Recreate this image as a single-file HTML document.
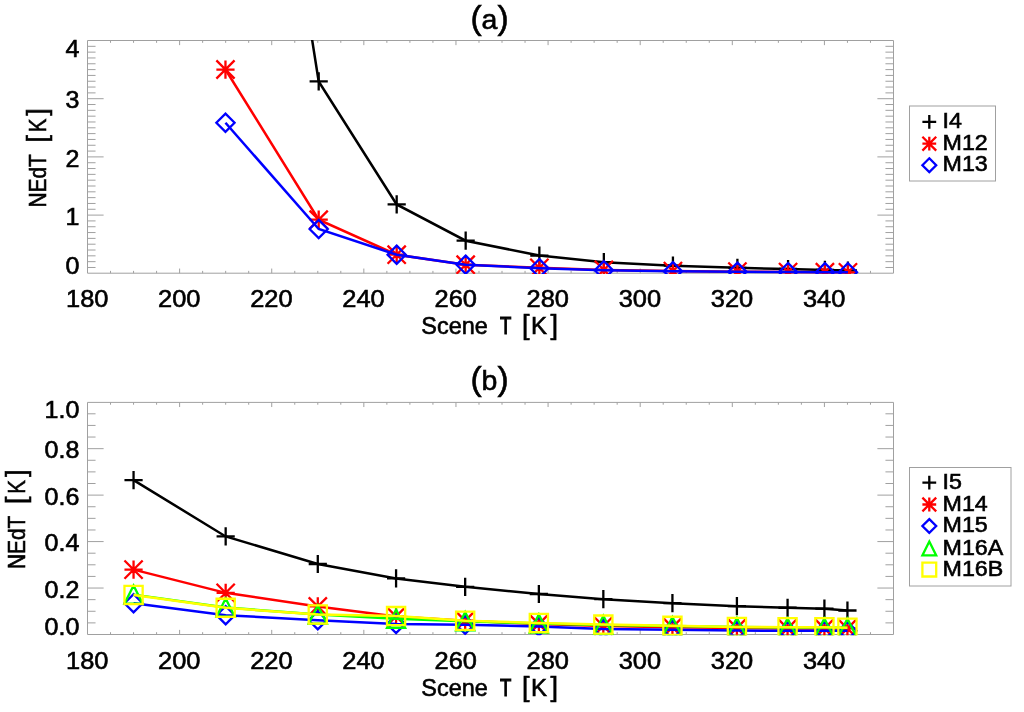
<!DOCTYPE html>
<html><head><meta charset="utf-8"><title>NEdT vs Scene T</title>
<style>
html,body{margin:0;padding:0;background:#fff;}
svg{display:block;font-family:'Liberation Sans', 'DejaVu Sans', sans-serif;fill:#000;}
text{stroke:#000;stroke-width:0.6px;}
</style></head><body>
<svg width="1024" height="712" viewBox="0 0 1024 712">
<rect width="1024" height="712" fill="#fff"/>
<clipPath id="ca"><rect x="87.0" y="40.0" width="807.0" height="233.89999999999998"/></clipPath>
<path d="M87.5 40.5H893.5V273.2H87.5ZM110.53 273.2v-2.33M110.53 40.5v2.33M133.56 273.2v-2.33M133.56 40.5v2.33M156.59 273.2v-2.33M156.59 40.5v2.33M179.61 273.2v-4.65M179.61 40.5v4.65M202.64 273.2v-2.33M202.64 40.5v2.33M225.67 273.2v-2.33M225.67 40.5v2.33M248.70 273.2v-2.33M248.70 40.5v2.33M271.73 273.2v-4.65M271.73 40.5v4.65M294.76 273.2v-2.33M294.76 40.5v2.33M317.79 273.2v-2.33M317.79 40.5v2.33M340.81 273.2v-2.33M340.81 40.5v2.33M363.84 273.2v-4.65M363.84 40.5v4.65M386.87 273.2v-2.33M386.87 40.5v2.33M409.90 273.2v-2.33M409.90 40.5v2.33M432.93 273.2v-2.33M432.93 40.5v2.33M455.96 273.2v-4.65M455.96 40.5v4.65M478.99 273.2v-2.33M478.99 40.5v2.33M502.01 273.2v-2.33M502.01 40.5v2.33M525.04 273.2v-2.33M525.04 40.5v2.33M548.07 273.2v-4.65M548.07 40.5v4.65M571.10 273.2v-2.33M571.10 40.5v2.33M594.13 273.2v-2.33M594.13 40.5v2.33M617.16 273.2v-2.33M617.16 40.5v2.33M640.19 273.2v-4.65M640.19 40.5v4.65M663.21 273.2v-2.33M663.21 40.5v2.33M686.24 273.2v-2.33M686.24 40.5v2.33M709.27 273.2v-2.33M709.27 40.5v2.33M732.30 273.2v-4.65M732.30 40.5v4.65M755.33 273.2v-2.33M755.33 40.5v2.33M778.36 273.2v-2.33M778.36 40.5v2.33M801.39 273.2v-2.33M801.39 40.5v2.33M824.41 273.2v-4.65M824.41 40.5v4.65M847.44 273.2v-2.33M847.44 40.5v2.33M870.47 273.2v-2.33M870.47 40.5v2.33M87.5 267.48h8.06M893.5 267.48h-8.06M87.5 261.66h8.06M893.5 261.66h-8.06M87.5 255.84h8.06M893.5 255.84h-8.06M87.5 250.02h8.06M893.5 250.02h-8.06M87.5 244.20h8.06M893.5 244.20h-8.06M87.5 238.38h8.06M893.5 238.38h-8.06M87.5 232.56h8.06M893.5 232.56h-8.06M87.5 226.74h8.06M893.5 226.74h-8.06M87.5 220.92h8.06M893.5 220.92h-8.06M87.5 215.10h16.12M893.5 215.10h-16.12M87.5 209.28h8.06M893.5 209.28h-8.06M87.5 203.46h8.06M893.5 203.46h-8.06M87.5 197.64h8.06M893.5 197.64h-8.06M87.5 191.82h8.06M893.5 191.82h-8.06M87.5 186.00h8.06M893.5 186.00h-8.06M87.5 180.18h8.06M893.5 180.18h-8.06M87.5 174.36h8.06M893.5 174.36h-8.06M87.5 168.54h8.06M893.5 168.54h-8.06M87.5 162.72h8.06M893.5 162.72h-8.06M87.5 156.90h16.12M893.5 156.90h-16.12M87.5 151.08h8.06M893.5 151.08h-8.06M87.5 145.26h8.06M893.5 145.26h-8.06M87.5 139.44h8.06M893.5 139.44h-8.06M87.5 133.62h8.06M893.5 133.62h-8.06M87.5 127.80h8.06M893.5 127.80h-8.06M87.5 121.98h8.06M893.5 121.98h-8.06M87.5 116.16h8.06M893.5 116.16h-8.06M87.5 110.34h8.06M893.5 110.34h-8.06M87.5 104.52h8.06M893.5 104.52h-8.06M87.5 98.70h16.12M893.5 98.70h-16.12M87.5 92.88h8.06M893.5 92.88h-8.06M87.5 87.06h8.06M893.5 87.06h-8.06M87.5 81.24h8.06M893.5 81.24h-8.06M87.5 75.42h8.06M893.5 75.42h-8.06M87.5 69.60h8.06M893.5 69.60h-8.06M87.5 63.78h8.06M893.5 63.78h-8.06M87.5 57.96h8.06M893.5 57.96h-8.06M87.5 52.14h8.06M893.5 52.14h-8.06M87.5 46.32h8.06M893.5 46.32h-8.06" fill="none" stroke="#a0a0a0" stroke-width="1.0" shape-rendering="auto"/>
<g clip-path="url(#ca)" fill="none" stroke-linejoin="miter">
<polyline points="134.06,-2066.30 225.47,-510.20 318.69,81.47 396.68,204.44 465.67,240.71 539.36,255.56 603.84,262.18 672.93,265.69 737.41,267.85 788.07,269.02 824.91,269.90 847.94,270.48" stroke="#000" stroke-width="2.5"/>
<path d="M309.59 81.47H327.79M318.69 72.37V90.57M387.58 204.44H405.78000000000003M396.68 195.34V213.54M456.57 240.71H474.77000000000004M465.67 231.61V249.81M530.26 255.56H548.46M539.36 246.46V264.66M594.74 262.18H612.94M603.84 253.08V271.28000000000003M663.8299999999999 265.69H682.03M672.93 256.59V274.79M728.31 267.85H746.51M737.41 258.75V276.95000000000005M778.97 269.02H797.1700000000001M788.07 259.91999999999996V278.12M815.81 269.9H834.01M824.91 260.79999999999995V279.0M838.84 270.48H857.0400000000001M847.94 261.38V279.58000000000004" stroke="#000" stroke-width="2.3"/>
<polyline points="225.47,69.53 318.69,219.70 396.68,254.69 465.67,264.69 539.36,267.85 603.84,269.90 672.93,271.07 737.41,271.65 788.07,272.06 824.91,272.24 847.94,272.35" stroke="#f00" stroke-width="2.5"/>
<path d="M216.37 69.53H234.57M225.47 60.43V78.63M216.37 60.43L234.57 78.63M216.37 78.63L234.57 60.43M309.59 219.7H327.79M318.69 210.6V228.79999999999998M309.59 210.6L327.79 228.79999999999998M309.59 228.79999999999998L327.79 210.6M387.58 254.69H405.78000000000003M396.68 245.59V263.79M387.58 245.59L405.78000000000003 263.79M387.58 263.79L405.78000000000003 245.59M456.57 264.69H474.77000000000004M465.67 255.59V273.79M456.57 255.59L474.77000000000004 273.79M456.57 273.79L474.77000000000004 255.59M530.26 267.85H548.46M539.36 258.75V276.95000000000005M530.26 258.75L548.46 276.95000000000005M530.26 276.95000000000005L548.46 258.75M594.74 269.9H612.94M603.84 260.79999999999995V279.0M594.74 260.79999999999995L612.94 279.0M594.74 279.0L612.94 260.79999999999995M663.8299999999999 271.07H682.03M672.93 261.96999999999997V280.17M663.8299999999999 261.96999999999997L682.03 280.17M663.8299999999999 280.17L682.03 261.96999999999997M728.31 271.65H746.51M737.41 262.54999999999995V280.75M728.31 262.54999999999995L746.51 280.75M728.31 280.75L746.51 262.54999999999995M778.97 272.06H797.1700000000001M788.07 262.96V281.16M778.97 262.96L797.1700000000001 281.16M778.97 281.16L797.1700000000001 262.96M815.81 272.24H834.01M824.91 263.14V281.34000000000003M815.81 263.14L834.01 281.34000000000003M815.81 281.34000000000003L834.01 263.14M838.84 272.35H857.0400000000001M847.94 263.25V281.45000000000005M838.84 263.25L857.0400000000001 281.45000000000005M838.84 281.45000000000005L857.0400000000001 263.25" stroke="#f00" stroke-width="2.3"/>
<polyline points="225.47,122.77 318.69,228.95 396.68,254.69 465.67,264.69 539.36,268.20 603.84,270.19 672.93,271.24 737.41,271.77 788.07,272.12 824.91,272.24 847.94,272.30" stroke="#00f" stroke-width="2.5"/>
<path d="M225.47 113.67L234.57 122.77L225.47 131.87L216.37 122.77ZM318.69 219.85L327.79 228.95L318.69 238.04999999999998L309.59 228.95ZM396.68 245.59L405.78000000000003 254.69L396.68 263.79L387.58 254.69ZM465.67 255.59L474.77000000000004 264.69L465.67 273.79L456.57 264.69ZM539.36 259.09999999999997L548.46 268.2L539.36 277.3L530.26 268.2ZM603.84 261.09L612.94 270.19L603.84 279.29L594.74 270.19ZM672.93 262.14L682.03 271.24L672.93 280.34000000000003L663.8299999999999 271.24ZM737.41 262.66999999999996L746.51 271.77L737.41 280.87L728.31 271.77ZM788.07 263.02L797.1700000000001 272.12L788.07 281.22L778.97 272.12ZM824.91 263.14L834.01 272.24L824.91 281.34000000000003L815.81 272.24ZM847.94 263.2L857.0400000000001 272.3L847.94 281.40000000000003L838.84 272.3Z" stroke="#00f" stroke-width="2.3"/>
</g>
<g font-size="24" text-anchor="middle">
<text transform="translate(87.2 306.8) scale(1.06 1)">180</text>
<text transform="translate(179.3 306.8) scale(1.06 1)">200</text>
<text transform="translate(271.4 306.8) scale(1.06 1)">220</text>
<text transform="translate(363.5 306.8) scale(1.06 1)">240</text>
<text transform="translate(455.7 306.8) scale(1.06 1)">260</text>
<text transform="translate(547.8 306.8) scale(1.06 1)">280</text>
<text transform="translate(639.9 306.8) scale(1.06 1)">300</text>
<text transform="translate(732.0 306.8) scale(1.06 1)">320</text>
<text transform="translate(824.1 306.8) scale(1.06 1)">340</text>
</g>
<g font-size="23" text-anchor="end">
<text transform="translate(79.4 56.5) scale(1.09 1)">4</text>
<text transform="translate(79.4 108.4) scale(1.09 1)">3</text>
<text transform="translate(79.4 166.6) scale(1.09 1)">2</text>
<text transform="translate(79.4 224.8) scale(1.09 1)">1</text>
<text transform="translate(79.4 273.8) scale(1.09 1)">0</text>
</g>
<text x="489.5" y="28.5" font-size="33.6" text-anchor="middle" style="stroke-width:0.6px"><tspan>(</tspan><tspan font-size="28.5">a</tspan><tspan>)</tspan></text>
<text y="334.3" font-size="24"><tspan x="421.3" textLength="66.5" lengthAdjust="spacingAndGlyphs">Scene</tspan> <tspan x="500" textLength="11" lengthAdjust="spacingAndGlyphs" style="stroke-width:1.1px">T</tspan> <tspan x="522" font-size="27">[</tspan><tspan x="531">K</tspan><tspan x="550.4" font-size="27">]</tspan></text>
<text transform="translate(46.3 157.3) rotate(-90)" font-size="24"><tspan x="-50.3" textLength="53" lengthAdjust="spacingAndGlyphs">NEdT</tspan> <tspan x="14.7" font-size="27">[</tspan><tspan x="25" textLength="13.6" lengthAdjust="spacingAndGlyphs">K</tspan><tspan x="41.6" font-size="27">]</tspan></text>
<rect x="909.5" y="106" width="86.0" height="75" fill="#fff" stroke="#a0a0a0" stroke-width="1.0"/>
<path d="M922.4 121.8H936.1999999999999M929.3 114.89999999999999V128.7" fill="none" stroke="#000" stroke-width="2.3"/>
<text transform="translate(942.5 127.8) scale(1.035 1)" font-size="22.5">I4</text>
<path d="M922.4 143.7H936.1999999999999M929.3 136.79999999999998V150.6M922.4 136.79999999999998L936.1999999999999 150.6M922.4 150.6L936.1999999999999 136.79999999999998" fill="none" stroke="#f00" stroke-width="2.3"/>
<text transform="translate(942.5 149.7) scale(1.035 1)" font-size="22.5">M12</text>
<path d="M929.3 158.29999999999998L936.1999999999999 165.2L929.3 172.1L922.4 165.2Z" fill="none" stroke="#00f" stroke-width="2.3"/>
<text transform="translate(942.5 171.2) scale(1.035 1)" font-size="22.5">M13</text>
<clipPath id="cb"><rect x="87.0" y="401.9" width="807.0" height="233.3"/></clipPath>
<path d="M87.5 402.4H893.5V634.5H87.5ZM110.53 634.5v-2.32M110.53 402.4v2.32M133.56 634.5v-2.32M133.56 402.4v2.32M156.59 634.5v-2.32M156.59 402.4v2.32M179.61 634.5v-4.64M179.61 402.4v4.64M202.64 634.5v-2.32M202.64 402.4v2.32M225.67 634.5v-2.32M225.67 402.4v2.32M248.70 634.5v-2.32M248.70 402.4v2.32M271.73 634.5v-4.64M271.73 402.4v4.64M294.76 634.5v-2.32M294.76 402.4v2.32M317.79 634.5v-2.32M317.79 402.4v2.32M340.81 634.5v-2.32M340.81 402.4v2.32M363.84 634.5v-4.64M363.84 402.4v4.64M386.87 634.5v-2.32M386.87 402.4v2.32M409.90 634.5v-2.32M409.90 402.4v2.32M432.93 634.5v-2.32M432.93 402.4v2.32M455.96 634.5v-4.64M455.96 402.4v4.64M478.99 634.5v-2.32M478.99 402.4v2.32M502.01 634.5v-2.32M502.01 402.4v2.32M525.04 634.5v-2.32M525.04 402.4v2.32M548.07 634.5v-4.64M548.07 402.4v4.64M571.10 634.5v-2.32M571.10 402.4v2.32M594.13 634.5v-2.32M594.13 402.4v2.32M617.16 634.5v-2.32M617.16 402.4v2.32M640.19 634.5v-4.64M640.19 402.4v4.64M663.21 634.5v-2.32M663.21 402.4v2.32M686.24 634.5v-2.32M686.24 402.4v2.32M709.27 634.5v-2.32M709.27 402.4v2.32M732.30 634.5v-4.64M732.30 402.4v4.64M755.33 634.5v-2.32M755.33 402.4v2.32M778.36 634.5v-2.32M778.36 402.4v2.32M801.39 634.5v-2.32M801.39 402.4v2.32M824.41 634.5v-4.64M824.41 402.4v4.64M847.44 634.5v-2.32M847.44 402.4v2.32M870.47 634.5v-2.32M870.47 402.4v2.32M87.5 622.88h8.06M893.5 622.88h-8.06M87.5 611.27h8.06M893.5 611.27h-8.06M87.5 599.65h8.06M893.5 599.65h-8.06M87.5 588.04h16.12M893.5 588.04h-16.12M87.5 576.42h8.06M893.5 576.42h-8.06M87.5 564.81h8.06M893.5 564.81h-8.06M87.5 553.19h8.06M893.5 553.19h-8.06M87.5 541.58h16.12M893.5 541.58h-16.12M87.5 529.97h8.06M893.5 529.97h-8.06M87.5 518.35h8.06M893.5 518.35h-8.06M87.5 506.74h8.06M893.5 506.74h-8.06M87.5 495.12h16.12M893.5 495.12h-16.12M87.5 483.50h8.06M893.5 483.50h-8.06M87.5 471.89h8.06M893.5 471.89h-8.06M87.5 460.27h8.06M893.5 460.27h-8.06M87.5 448.66h16.12M893.5 448.66h-16.12M87.5 437.04h8.06M893.5 437.04h-8.06M87.5 425.43h8.06M893.5 425.43h-8.06M87.5 413.81h8.06M893.5 413.81h-8.06" fill="none" stroke="#a0a0a0" stroke-width="1.0" shape-rendering="auto"/>
<g clip-path="url(#cb)" fill="none" stroke-linejoin="miter">
<polyline points="133.56,480.09 225.67,536.45 317.79,564.02 396.08,578.44 465.17,586.81 538.86,594.01 603.34,599.20 672.43,603.20 736.91,606.20 787.57,607.73 824.41,608.66 847.44,610.52" stroke="#000" stroke-width="2.5"/>
<path d="M124.46000000000001 480.09H142.66M133.56 470.98999999999995V489.19M216.57 536.45H234.76999999999998M225.67 527.35V545.5500000000001M308.69 564.02H326.89000000000004M317.79 554.92V573.12M386.97999999999996 578.44H405.18M396.08 569.34V587.5400000000001M456.07 586.81H474.27000000000004M465.17 577.7099999999999V595.91M529.76 594.01H547.96M538.86 584.91V603.11M594.24 599.2H612.44M603.34 590.1V608.3000000000001M663.3299999999999 603.2H681.53M672.43 594.1V612.3000000000001M727.81 606.2H746.01M736.91 597.1V615.3000000000001M778.47 607.73H796.6700000000001M787.57 598.63V616.83M815.31 608.66H833.51M824.41 599.56V617.76M838.34 610.52H856.5400000000001M847.44 601.42V619.62" stroke="#000" stroke-width="2.3"/>
<polyline points="133.56,569.60 225.67,592.85 317.79,606.45 396.08,616.45 465.17,620.75 538.86,624.00 603.34,626.10 672.43,627.26 736.91,627.96 787.57,628.42 824.41,628.42 847.44,628.42" stroke="#f00" stroke-width="2.5"/>
<path d="M124.46000000000001 569.6H142.66M133.56 560.5V578.7M124.46000000000001 560.5L142.66 578.7M124.46000000000001 578.7L142.66 560.5M216.57 592.85H234.76999999999998M225.67 583.75V601.95M216.57 583.75L234.76999999999998 601.95M216.57 601.95L234.76999999999998 583.75M308.69 606.45H326.89000000000004M317.79 597.35V615.5500000000001M308.69 597.35L326.89000000000004 615.5500000000001M308.69 615.5500000000001L326.89000000000004 597.35M386.97999999999996 616.45H405.18M396.08 607.35V625.5500000000001M386.97999999999996 607.35L405.18 625.5500000000001M386.97999999999996 625.5500000000001L405.18 607.35M456.07 620.75H474.27000000000004M465.17 611.65V629.85M456.07 611.65L474.27000000000004 629.85M456.07 629.85L474.27000000000004 611.65M529.76 624.0H547.96M538.86 614.9V633.1M529.76 614.9L547.96 633.1M529.76 633.1L547.96 614.9M594.24 626.1H612.44M603.34 617.0V635.2M594.24 617.0L612.44 635.2M594.24 635.2L612.44 617.0M663.3299999999999 627.26H681.53M672.43 618.16V636.36M663.3299999999999 618.16L681.53 636.36M663.3299999999999 636.36L681.53 618.16M727.81 627.96H746.01M736.91 618.86V637.0600000000001M727.81 618.86L746.01 637.0600000000001M727.81 637.0600000000001L746.01 618.86M778.47 628.42H796.6700000000001M787.57 619.3199999999999V637.52M778.47 619.3199999999999L796.6700000000001 637.52M778.47 637.52L796.6700000000001 619.3199999999999M815.31 628.42H833.51M824.41 619.3199999999999V637.52M815.31 619.3199999999999L833.51 637.52M815.31 637.52L833.51 619.3199999999999M838.34 628.42H856.5400000000001M847.44 619.3199999999999V637.52M838.34 619.3199999999999L856.5400000000001 637.52M838.34 637.52L856.5400000000001 619.3199999999999" stroke="#f00" stroke-width="2.3"/>
<polyline points="133.56,603.31 225.67,615.17 317.79,620.29 396.08,624.00 465.17,624.70 538.86,626.56 603.34,629.12 672.43,629.82 736.91,630.52 787.57,630.86 824.41,630.86 847.44,630.86" stroke="#00f" stroke-width="2.5"/>
<path d="M133.56 594.2099999999999L142.66 603.31L133.56 612.41L124.46000000000001 603.31ZM225.67 606.0699999999999L234.76999999999998 615.17L225.67 624.27L216.57 615.17ZM317.79 611.1899999999999L326.89000000000004 620.29L317.79 629.39L308.69 620.29ZM396.08 614.9L405.18 624.0L396.08 633.1L386.97999999999996 624.0ZM465.17 615.6L474.27000000000004 624.7L465.17 633.8000000000001L456.07 624.7ZM538.86 617.4599999999999L547.96 626.56L538.86 635.66L529.76 626.56ZM603.34 620.02L612.44 629.12L603.34 638.22L594.24 629.12ZM672.43 620.72L681.53 629.82L672.43 638.9200000000001L663.3299999999999 629.82ZM736.91 621.42L746.01 630.52L736.91 639.62L727.81 630.52ZM787.57 621.76L796.6700000000001 630.86L787.57 639.96L778.47 630.86ZM824.41 621.76L833.51 630.86L824.41 639.96L815.31 630.86ZM847.44 621.76L856.5400000000001 630.86L847.44 639.96L838.34 630.86Z" stroke="#00f" stroke-width="2.3"/>
<polyline points="133.56,594.62 225.67,607.61 317.79,614.47 396.08,618.66 465.17,621.22 538.86,623.54 603.34,624.94 672.43,626.10 736.91,627.03 787.57,627.49 824.41,627.49 847.44,627.73" stroke="#0f0" stroke-width="2.5"/>
<path d="M133.56 585.52L142.66 603.72L124.46000000000001 603.72ZM225.67 598.51L234.76999999999998 616.71L216.57 616.71ZM317.79 605.37L326.89000000000004 623.57L308.69 623.57ZM396.08 609.56L405.18 627.76L386.97999999999996 627.76ZM465.17 612.12L474.27000000000004 630.32L456.07 630.32ZM538.86 614.4399999999999L547.96 632.64L529.76 632.64ZM603.34 615.84L612.44 634.0400000000001L594.24 634.0400000000001ZM672.43 617.0L681.53 635.2L663.3299999999999 635.2ZM736.91 617.93L746.01 636.13L727.81 636.13ZM787.57 618.39L796.6700000000001 636.59L778.47 636.59ZM824.41 618.39L833.51 636.59L815.31 636.59ZM847.44 618.63L856.5400000000001 636.83L838.34 636.83Z" stroke="#0f0" stroke-width="2.3"/>
<polyline points="133.56,594.94 225.67,607.85 317.79,614.47 396.08,616.10 465.17,620.75 538.86,622.96 603.34,624.59 672.43,625.87 736.91,626.91 787.57,627.26 824.41,627.26 847.44,627.73" stroke="#ff0" stroke-width="2.5"/>
<path d="M124.46000000000001 585.84H142.66V604.0400000000001H124.46000000000001ZM216.57 598.75H234.76999999999998V616.95H216.57ZM308.69 605.37H326.89000000000004V623.57H308.69ZM386.97999999999996 607.0H405.18V625.2H386.97999999999996ZM456.07 611.65H474.27000000000004V629.85H456.07ZM529.76 613.86H547.96V632.0600000000001H529.76ZM594.24 615.49H612.44V633.69H594.24ZM663.3299999999999 616.77H681.53V634.97H663.3299999999999ZM727.81 617.81H746.01V636.01H727.81ZM778.47 618.16H796.6700000000001V636.36H778.47ZM815.31 618.16H833.51V636.36H815.31ZM838.34 618.63H856.5400000000001V636.83H838.34Z" stroke="#ff0" stroke-width="2.3"/>
</g>
<g font-size="24" text-anchor="middle">
<text transform="translate(87.2 668.8) scale(1.06 1)">180</text>
<text transform="translate(179.3 668.8) scale(1.06 1)">200</text>
<text transform="translate(271.4 668.8) scale(1.06 1)">220</text>
<text transform="translate(363.5 668.8) scale(1.06 1)">240</text>
<text transform="translate(455.7 668.8) scale(1.06 1)">260</text>
<text transform="translate(547.8 668.8) scale(1.06 1)">280</text>
<text transform="translate(639.9 668.8) scale(1.06 1)">300</text>
<text transform="translate(732.0 668.8) scale(1.06 1)">320</text>
<text transform="translate(824.1 668.8) scale(1.06 1)">340</text>
</g>
<g font-size="23" text-anchor="end">
<text transform="translate(79.4 418.4) scale(1.09 1)">1.0</text>
<text transform="translate(79.4 458.4) scale(1.09 1)">0.8</text>
<text transform="translate(79.4 504.8) scale(1.09 1)">0.6</text>
<text transform="translate(79.4 551.3) scale(1.09 1)">0.4</text>
<text transform="translate(79.4 597.7) scale(1.09 1)">0.2</text>
<text transform="translate(79.4 635.1) scale(1.09 1)">0.0</text>
</g>
<text x="489.5" y="389.8" font-size="33.6" text-anchor="middle" style="stroke-width:0.6px"><tspan>(</tspan><tspan font-size="28.5">b</tspan><tspan>)</tspan></text>
<text y="696.3" font-size="24"><tspan x="421.3" textLength="66.5" lengthAdjust="spacingAndGlyphs">Scene</tspan> <tspan x="500" textLength="11" lengthAdjust="spacingAndGlyphs" style="stroke-width:1.1px">T</tspan> <tspan x="522" font-size="27">[</tspan><tspan x="531">K</tspan><tspan x="550.4" font-size="27">]</tspan></text>
<text transform="translate(24.8 518.7) rotate(-90)" font-size="24"><tspan x="-50.3" textLength="53" lengthAdjust="spacingAndGlyphs">NEdT</tspan> <tspan x="14.7" font-size="27">[</tspan><tspan x="25" textLength="13.6" lengthAdjust="spacingAndGlyphs">K</tspan><tspan x="41.6" font-size="27">]</tspan></text>
<rect x="909.5" y="467.5" width="101.5" height="118.5" fill="#fff" stroke="#a0a0a0" stroke-width="1.0"/>
<path d="M922.4 482.7H936.1999999999999M929.3 475.8V489.59999999999997" fill="none" stroke="#000" stroke-width="2.3"/>
<text transform="translate(942.5 488.7) scale(1.035 1)" font-size="22.5">I5</text>
<path d="M922.4 504.5H936.1999999999999M929.3 497.6V511.4M922.4 497.6L936.1999999999999 511.4M922.4 511.4L936.1999999999999 497.6" fill="none" stroke="#f00" stroke-width="2.3"/>
<text transform="translate(942.5 510.5) scale(1.035 1)" font-size="22.5">M14</text>
<path d="M929.3 519.1L936.1999999999999 526L929.3 532.9L922.4 526Z" fill="none" stroke="#00f" stroke-width="2.3"/>
<text transform="translate(942.5 532.0) scale(1.035 1)" font-size="22.5">M15</text>
<path d="M929.3 541.6L936.1999999999999 555.4L922.4 555.4Z" fill="none" stroke="#0f0" stroke-width="2.3"/>
<text transform="translate(942.5 554.5) scale(1.035 1)" font-size="22.5">M16A</text>
<path d="M922.4 562.7H936.1999999999999V576.5H922.4Z" fill="none" stroke="#ff0" stroke-width="2.3"/>
<text transform="translate(942.5 575.6) scale(1.035 1)" font-size="22.5">M16B</text>
</svg>
</body></html>
